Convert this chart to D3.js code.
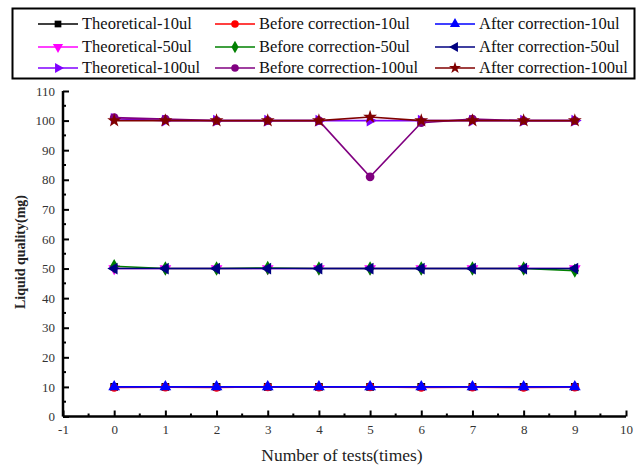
<!DOCTYPE html>
<html>
<head>
<meta charset="utf-8">
<script src="https://cdn.jsdelivr.net/npm/d3@7"></script>
<style>
  body { margin: 0; background: #fff; }
  svg text { font-family: "Liberation Serif", "Times New Roman", "DejaVu Serif", serif; }
</style>
</head>
<body>
<div id="chart"></div>
<script>
// data
var tests = [0, 1, 2, 3, 4, 5, 6, 7, 8, 9];
var theo10 = [10, 10, 10, 10, 10, 10, 10, 10, 10, 10];
var before10 = [9.8, 9.9, 9.8, 10, 9.9, 10, 9.8, 9.9, 9.8, 9.9];
var after10 = [10, 10, 10, 10, 10, 10, 10, 10, 10, 10];
var theo50 = [50, 50, 50, 50, 50, 50, 50, 50, 50, 50];
var before50 = [50.8, 50, 50, 50.2, 50, 50, 50, 50, 50, 49.3];
var after50 = [50, 50, 50, 50, 50, 50, 50, 50, 50, 50];
var theo100 = [100.6, 100, 100, 100, 100, 100, 100, 100, 100, 100];
var before100 = [101, 100.5, 100, 100, 100, 81, 99.3, 100.5, 100, 100];
var after100 = [100, 100, 100, 100, 100, 101.2, 100, 100, 100, 100];

var xTicks = [-1, 0, 1, 2, 3, 4, 5, 6, 7, 8, 9, 10];
var yTicks = [0, 10, 20, 30, 40, 50, 60, 70, 80, 90, 100, 110];

var series = [
    {name: 'Theoretical-10ul', values: theo10, color: '#000000', sym: d3.symbolSquare, rot: 0},
    {name: 'Before correction-10ul', values: before10, color: '#ff0000', sym: d3.symbolCircle, rot: 0},
    {name: 'After correction-10ul', values: after10, color: '#0000ff', sym: d3.symbolTriangle, rot: 0},
    {name: 'Theoretical-50ul', values: theo50, color: '#ff00ff', sym: d3.symbolTriangle, rot: 180},
    {name: 'Before correction-50ul', values: before50, color: '#008000', sym: d3.symbolDiamond, rot: 0},
    {name: 'After correction-50ul', values: after50, color: '#000080', sym: d3.symbolTriangle, rot: -90},
    {name: 'Theoretical-100ul', values: theo100, color: '#8000ff', sym: d3.symbolTriangle, rot: 90},
    {name: 'Before correction-100ul', values: before100, color: '#800080', sym: d3.symbolCircle, rot: 0},
    {name: 'After correction-100ul', values: after100, color: '#800000', sym: d3.symbolStar, rot: 0}
];

var width = 639, height = 467;
var svg = d3.select('#chart').append('svg')
    .attr('width', width)
    .attr('height', height);

var x = d3.scaleLinear().domain([-1, 10]).range([63, 626]);
var y = d3.scaleLinear().domain([0, 110]).range([416.5, 91]);

var fmt = function (d) { return String(d); };

//// LEGEND
var leg = svg.append('g');
leg.append('rect')
    .attr('x', 12.5).attr('y', 8.5)
    .attr('width', 622).attr('height', 70)
    .attr('fill', 'none').attr('stroke', '#000').attr('stroke-width', 2);

var colX = [38, 215, 435];
var rowY = [24, 47, 68];
series.forEach(function (s, i) {
    var cx = colX[i % 3], cy = rowY[Math.floor(i / 3)];
    var g = leg.append('g');
    g.append('line')
        .attr('x1', cx).attr('x2', cx + 40)
        .attr('y1', cy).attr('y2', cy)
        .attr('stroke', s.color).attr('stroke-width', 1.6);
    g.append('path')
        .attr('d', d3.symbol().type(s.sym).size(45)())
        .attr('transform', 'translate(' + (cx + 20) + ',' + cy + ') rotate(' + s.rot + ')')
        .attr('fill', s.color);
    g.append('text')
        .attr('x', cx + 44).attr('y', cy + 5)
        .attr('font-size', 16.5)
        .attr('fill', '#111')
        .text(s.name);
});

//// AXES
var xAxis = d3.axisBottom(x).tickValues(xTicks).tickSize(-6).tickPadding(8).tickFormat(fmt);
var yAxis = d3.axisLeft(y).tickValues(yTicks).tickSize(-6).tickPadding(8).tickFormat(fmt);

var gX = svg.append('g')
    .attr('transform', 'translate(0,' + y(0) + ')')
    .call(xAxis);
var gY = svg.append('g')
    .attr('transform', 'translate(' + x(-1) + ',0)')
    .call(yAxis);

[gX, gY].forEach(function (g) {
    g.attr('font-family', null);
    g.select('.domain').attr('stroke', '#000').attr('stroke-width', 2.5);
    g.selectAll('.tick line').attr('stroke', '#000').attr('stroke-width', 2);
    g.selectAll('.tick text').attr('font-size', 13).attr('fill', '#333');
});
gX.select('.domain').attr('d', 'M' + x(-1) + ',0H' + x(10));
gY.select('.domain').attr('d', 'M0,' + y(0) + 'V' + y(110));

// minor ticks
var xMinor = xTicks.slice(0, -1).map(function (d) { return d + 0.5; });
var yMinor = yTicks.slice(0, -1).map(function (d) { return d + 5; });
svg.append('g').selectAll('line').data(xMinor).enter().append('line')
    .attr('x1', function (d) { return x(d); }).attr('x2', function (d) { return x(d); })
    .attr('y1', y(0)).attr('y2', y(0) - 3)
    .attr('stroke', '#000').attr('stroke-width', 2);
svg.append('g').selectAll('line').data(yMinor).enter().append('line')
    .attr('y1', function (d) { return y(d); }).attr('y2', function (d) { return y(d); })
    .attr('x1', x(-1)).attr('x2', x(-1) + 3)
    .attr('stroke', '#000').attr('stroke-width', 2);

svg.append('text')
    .attr('x', 342).attr('y', 461)
    .attr('text-anchor', 'middle')
    .attr('font-size', 17.5)
    .attr('fill', '#222')
    .text('Number of tests(times)');

svg.append('text')
    .attr('transform', 'translate(25,' + 252 + ') rotate(-90)')
    .attr('text-anchor', 'middle')
    .attr('font-size', 14)
    .attr('font-weight', 'bold')
    .attr('fill', '#222')
    .text('Liquid quality(mg)');

//// SERIES
var line = d3.line()
    .x(function (d, i) { return x(tests[i]); })
    .y(function (d) { return y(d); });

series.forEach(function (s) {
    var g = svg.append('g');
    g.append('path')
        .attr('d', line(s.values))
        .attr('fill', 'none')
        .attr('stroke', s.color)
        .attr('stroke-width', 1.6);
    g.selectAll('path.pt').data(s.values).enter().append('path')
        .attr('class', 'pt')
        .attr('d', d3.symbol().type(s.sym).size(60)())
        .attr('transform', function (d, i) {
            return 'translate(' + x(tests[i]) + ',' + y(d) + ') rotate(' + s.rot + ')';
        })
        .attr('fill', s.color);
});
</script>
</body>
</html>
